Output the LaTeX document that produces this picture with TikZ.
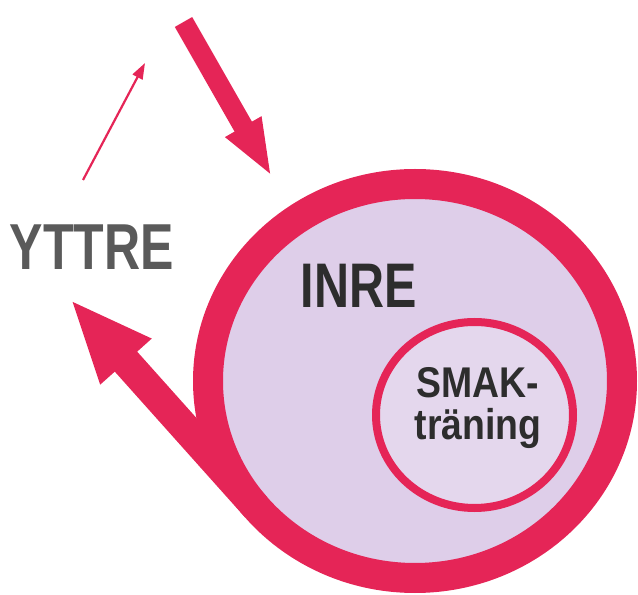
\documentclass[tikz,border=0pt]{standalone}
\usepackage{fontspec}
\usepackage{tikz}
\usetikzlibrary{arrows.meta,calc,positioning,shapes}
\newfontfamily\condfont{Liberation Sans}[FakeStretch=0.77]
\newfontfamily\smakfont{Liberation Sans}[FakeStretch=0.87]
\definecolor{rosa}{RGB}{229,37,87}
\definecolor{lila}{RGB}{222,206,233}
\definecolor{ljuslila}{RGB}{228,215,237}
\definecolor{gra}{RGB}{90,90,90}
\definecolor{mork}{RGB}{45,45,45}

\begin{document}
\begin{tikzpicture}[
		x=1pt, y=1pt,
		ring/.style={ellipse, draw=rosa, inner sep=0pt},
		pil/.style={draw=rosa, line cap=butt},
		etikett/.style={inner sep=0pt, anchor=base},
		]
		\useasboundingbox (0,0) rectangle (638,595);
		
		% Les cercles
		\node[ring, fill=lila, line width=30pt, minimum width=414pt, minimum height=394pt] (inre) at (415,214) {};
		\node[ring, fill=ljuslila, line width=8pt, minimum width=197pt, minimum height=186pt] (smak) at (474.5,180) {};
		
		% Les points des flèches
		\coordinate (ut) at ([shift={(219.8:207 and 197)}]inre.center);
		\coordinate (utspets) at (70,296);
		\coordinate (svans) at (183.5,573);
		\coordinate (inspets) at (272,418);
		\coordinate (tunnstart) at (83,415);
		\coordinate (tunnspets) at (145,532);
		
		% Les flèches
		\draw[pil, line width=30pt, -{Triangle[length=84pt, width=62pt]}] (ut) -- (utspets);
		\draw[pil, line width=20pt, -{Triangle[length=58pt, width=37pt]}] (svans) -- (inspets);
		\draw[pil, line width=2.2pt, -{Triangle[length=16pt, width=11pt]}] (tunnstart) -- (tunnspets);
		
		% Les textes
		\node[etikett, text=gra, font=\condfont\bfseries\fontsize{65}{65}\selectfont] (yttre) at (92,325) {YTTRE};
		\node[etikett, text=mork, font=\condfont\bfseries\fontsize{63}{63}\selectfont] (inretext) at (358.5,287) {INRE};
		\node[inner sep=0pt, align=center, text=mork, font=\smakfont\bfseries\fontsize{43}{42}\selectfont] (smaktext) at (478,187) {SMAK-\\träning};
	\end{tikzpicture}
\end{document}
